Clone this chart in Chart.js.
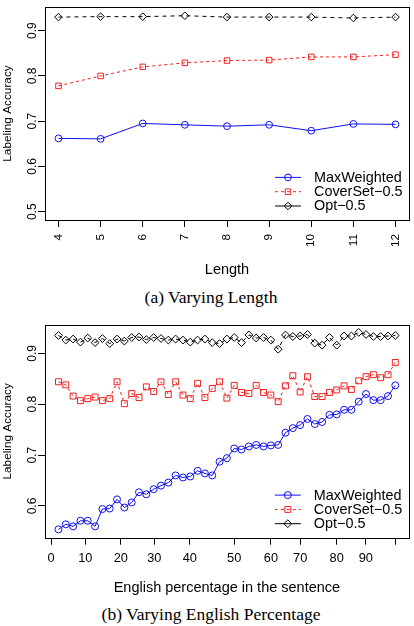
<!DOCTYPE html>
<html>
<head>
<meta charset="utf-8">
<script src="https://cdn.jsdelivr.net/npm/chart.js@4.4.1/dist/chart.umd.min.js"></script>
<style>
  body { margin: 0; background: #fff; width: 414px; height: 626px; position: relative; overflow: hidden; }
  .panel { position: absolute; left: 0; width: 414px; }
  .caption { position: absolute; left: 0; width: 422px; text-align: center; font-family: "Liberation Serif", "Times New Roman", serif; font-size: 17.5px; line-height: 20px; color: #000; }
</style>
</head>
<body>
<div class="panel" style="top:0;height:285px"><canvas id="chartLength"></canvas></div>
<div class="caption" style="top:287px">(a) Varying Length</div>
<div class="panel" style="top:310px;height:292px"><canvas id="chartEnglish"></canvas></div>
<div class="caption" style="top:604px">(b) Varying English Percentage</div>
<script>
// (a) precision por longitud
const lengths = [4, 5, 6, 7, 8, 9, 10, 11, 12];
const lenMaxWeighted = [0.662, 0.661, 0.695, 0.692, 0.689, 0.692, 0.679, 0.694, 0.693];
const lenCoverSet = [0.778, 0.800, 0.820, 0.829, 0.834, 0.835, 0.842, 0.842, 0.847];
const lenOpt = [0.930, 0.931, 0.931, 0.933, 0.930, 0.930, 0.930, 0.928, 0.930];
const lenYTicks = [0.5, 0.6, 0.7, 0.8, 0.9];

// (b) precision por porcentaje de ingles
const engIndex = [1, 2, 3, 4, 5, 6, 7, 8, 9, 10, 11, 12, 13, 14, 15, 16, 17, 18, 19, 20, 21, 22, 23, 24,
  25, 26, 27, 28, 29, 30, 31, 32, 33, 34, 35, 36, 37, 38, 39, 40, 41, 42, 43, 44, 45, 46, 47];
const engMaxWeighted = [0.554, 0.564, 0.560, 0.571, 0.571, 0.560, 0.594, 0.595, 0.613, 0.597, 0.607, 0.627,
  0.623, 0.633, 0.640, 0.646, 0.660, 0.656, 0.658, 0.669, 0.664, 0.660, 0.687, 0.694, 0.713, 0.711, 0.717,
  0.720, 0.717, 0.719, 0.720, 0.744, 0.753, 0.759, 0.771, 0.761, 0.765, 0.779, 0.780, 0.789, 0.789, 0.805,
  0.820, 0.808, 0.808, 0.816, 0.837];
const engCoverSet = [0.844, 0.838, 0.816, 0.807, 0.811, 0.814, 0.807, 0.811, 0.844, 0.801, 0.821, 0.813,
  0.834, 0.825, 0.844, 0.819, 0.844, 0.818, 0.811, 0.841, 0.813, 0.831, 0.844, 0.812, 0.837, 0.823, 0.821,
  0.837, 0.823, 0.818, 0.805, 0.836, 0.856, 0.824, 0.854, 0.815, 0.815, 0.823, 0.828, 0.836, 0.829, 0.846,
  0.854, 0.858, 0.852, 0.858, 0.882];
const engOpt = [0.935, 0.926, 0.928, 0.922, 0.930, 0.921, 0.929, 0.919, 0.928, 0.924, 0.931, 0.932, 0.927,
  0.931, 0.929, 0.926, 0.928, 0.926, 0.922, 0.926, 0.928, 0.921, 0.919, 0.928, 0.931, 0.921, 0.936, 0.930,
  0.931, 0.926, 0.908, 0.936, 0.933, 0.934, 0.937, 0.920, 0.916, 0.931, 0.916, 0.934, 0.934, 0.941, 0.937,
  0.933, 0.933, 0.934, 0.935];
const engXTickPos = [0, 4.67, 9.52, 14.08, 18.93, 25, 30.02, 34, 38.99, 42.97, 47];
const engXTickLabels = ['0', '10', '20', '30', '40', '50', '60', '70', '80', '90', ''];
const engYTicks = [0.6, 0.7, 0.8, 0.9];

const seriesNames = ['MaxWeighted', 'CoverSet\u22120.5', 'Opt\u22120.5'];

const BLUE = '#1010f0';
const RED = '#f02020';
const BLACK = '#000000';
const SANS = '"Liberation Sans", Arial, Helvetica, sans-serif';

const createDataset = (label, xs, ys, color, dash, pointStyle, radius, legendDash) => ({
    label: label,
    data: xs.map((x, i) => ({ x: x, y: ys[i] })),
    borderColor: color,
    borderWidth: 1,
    borderDash: dash,
    pointStyle: pointStyle,
    pointRadius: radius,
    pointBorderColor: color,
    pointBackgroundColor: 'rgba(0,0,0,0)',
    pointBorderWidth: 1,
    fill: false,
    tension: 0,
    legendDash: legendDash
});

// marco negro alrededor del area (estilo R)
const boxPlugin = {
    id: 'marco',
    afterDatasetsDraw(chart) {
        const a = chart.chartArea;
        const ctx = chart.ctx;
        ctx.save();
        ctx.strokeStyle = BLACK;
        ctx.lineWidth = 1;
        ctx.setLineDash([]);
        ctx.strokeRect(Math.round(a.left) + 0.5, Math.round(a.top) + 0.5,
            Math.round(a.right - a.left), Math.round(a.bottom - a.top));
        ctx.restore();
    }
};

function drawMarker(ctx, style, x, y, r) {
    ctx.beginPath();
    if (style === 'circle') {
        ctx.arc(x, y, r, 0, Math.PI * 2);
    } else if (style === 'rect') {
        const s = Math.SQRT1_2 * r;
        ctx.rect(x - s, y - s, 2 * s, 2 * s);
    } else {
        ctx.moveTo(x - r, y);
        ctx.lineTo(x, y - r);
        ctx.lineTo(x + r, y);
        ctx.lineTo(x, y + r);
        ctx.closePath();
    }
    ctx.stroke();
}

// leyenda dentro del grafico, abajo a la derecha
const legendPlugin = {
    id: 'leyenda',
    afterDraw(chart) {
        const a = chart.chartArea;
        const ctx = chart.ctx;
        const sets = chart.data.datasets;
        ctx.save();
        sets.forEach((ds, k) => {
            const y = a.bottom - 14 - 14.3 * (sets.length - 1 - k);
            const x0 = a.right - 134;
            const x1 = a.right - 108;
            ctx.strokeStyle = ds.borderColor;
            ctx.lineWidth = 1;
            ctx.setLineDash(ds.legendDash);
            ctx.beginPath();
            ctx.moveTo(x0, y);
            ctx.lineTo(x1, y);
            ctx.stroke();
            ctx.setLineDash([]);
            drawMarker(ctx, ds.pointStyle, (x0 + x1) / 2, y, ds.pointRadius);
            ctx.fillStyle = BLACK;
            ctx.font = '14.4px ' + SANS;
            ctx.textAlign = 'left';
            ctx.textBaseline = 'middle';
            ctx.fillText(ds.label, a.right - 95, y + 0.5);
        });
        ctx.restore();
    }
};

function createConfig(datasets, x, y) {
    return {
        type: 'line',
        data: { datasets: datasets },
        plugins: [boxPlugin, legendPlugin],
        options: {
            responsive: true,
            maintainAspectRatio: false,
            animation: false,
            layout: { padding: x.layoutPadding },
            plugins: { legend: { display: false }, tooltip: { enabled: false } },
            scales: {
                x: {
                    type: 'linear',
                    min: x.min,
                    max: x.max,
                    border: { display: false },
                    grid: { drawOnChartArea: false, drawTicks: true, tickLength: 7, tickColor: BLACK, lineWidth: 1 },
                    afterBuildTicks: s => { s.ticks = x.ticks.map(v => ({ value: v })); },
                    afterFit: s => { s.height = x.height; s.paddingLeft = 0; s.paddingRight = 0; },
                    ticks: {
                        autoSkip: false,
                        minRotation: x.rotation,
                        maxRotation: x.rotation,
                        padding: x.padding,
                        color: BLACK,
                        font: { family: SANS, size: x.fontSize },
                        callback: (v, i) => x.labels[i]
                    },
                    title: {
                        display: true,
                        text: x.title,
                        color: BLACK,
                        font: { family: SANS, size: 14.5 },
                        padding: { top: 0, bottom: x.titlePad }
                    }
                },
                y: {
                    type: 'linear',
                    min: y.min,
                    max: y.max,
                    border: { display: false },
                    grid: { drawOnChartArea: false, drawTicks: true, tickLength: 7, tickColor: BLACK, lineWidth: 1 },
                    afterBuildTicks: s => { s.ticks = y.ticks.map(v => ({ value: v })); },
                    afterFit: s => { s.width = 45; s.paddingTop = 0; s.paddingBottom = 0; },
                    ticks: {
                        minRotation: 90,
                        maxRotation: 90,
                        crossAlign: 'center',
                        padding: -3,
                        color: BLACK,
                        font: { family: SANS, size: 12 },
                        callback: v => v.toFixed(1)
                    },
                    title: {
                        display: true,
                        text: 'Labeling Accuracy',
                        color: BLACK,
                        font: { family: SANS, size: 11.8 },
                        padding: { top: 1, bottom: 0 }
                    }
                }
            }
        }
    };
}

const datasetsLength = [
    createDataset(seriesNames[0], lengths, lenMaxWeighted, BLUE, [], 'circle', 3.4, []),
    createDataset(seriesNames[1], lengths, lenCoverSet, RED, [3, 3], 'rect', 3.9, [3, 3]),
    createDataset(seriesNames[2], lengths, lenOpt, BLACK, [4, 4], 'rectRot', 3.8, [])
];

const datasetsEnglish = [
    createDataset(seriesNames[0], engIndex, engMaxWeighted, BLUE, [], 'circle', 3.5, []),
    createDataset(seriesNames[1], engIndex, engCoverSet, RED, [3, 3], 'rect', 4.2, [3, 3]),
    createDataset(seriesNames[2], engIndex, engOpt, BLACK, [4, 4], 'rectRot', 3.9, [])
];

new Chart(document.getElementById('chartLength'), createConfig(datasetsLength, {
    min: 3.68, max: 12.32, ticks: lengths, labels: lengths.map(String),
    rotation: 90, padding: 7, fontSize: 11.7, height: 65, titlePad: 6.3,
    title: 'Length', layoutPadding: { top: 7, right: 3.3, left: 0, bottom: 0 }
}, { min: 0.4817, max: 0.9523, ticks: lenYTicks }));

new Chart(document.getElementById('chartEnglish'), createConfig(datasetsEnglish, {
    min: -0.84, max: 48.84, ticks: engXTickPos, labels: engXTickLabels,
    rotation: 0, padding: 6.5, fontSize: 12.8, height: 64.3, titlePad: 5.6,
    title: 'English percentage in the sentence', layoutPadding: { top: 15, right: 3, left: 0, bottom: 0 }
}, { min: 0.5377, max: 0.9556, ticks: engYTicks }));
</script>
</body>
</html>
